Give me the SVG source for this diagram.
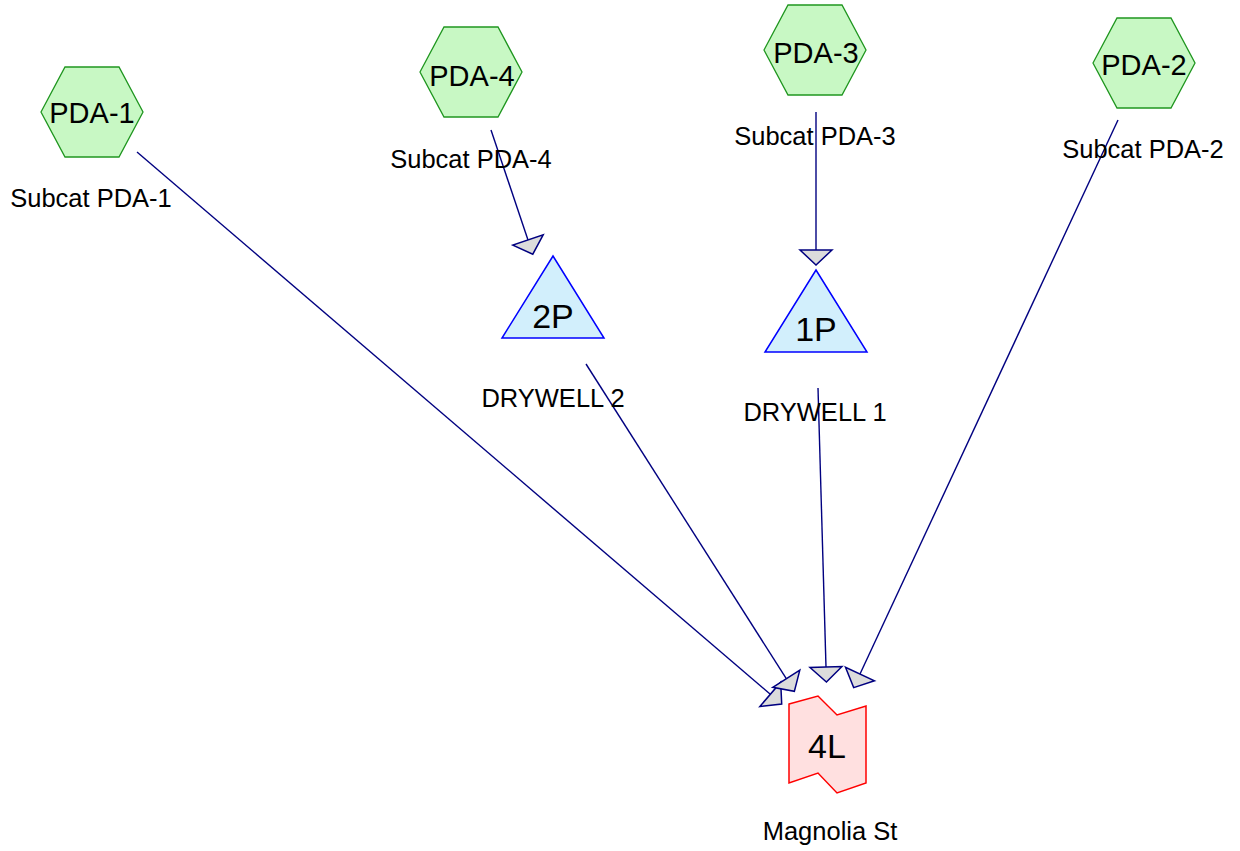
<svg xmlns="http://www.w3.org/2000/svg" width="1240" height="851" viewBox="0 0 1240 851">
<style>
.hex{fill:#c8f8c4;stroke:#1f961f;stroke-width:1.3}
.pond{fill:#d2effc;stroke:#0000ff;stroke-width:1.5}
.link{fill:#ffe0e0;stroke:#ff0000;stroke-width:1.5}
.edge{stroke:#000080;stroke-width:1.4;fill:none;marker-end:url(#arr)}
.code{font-family:"Liberation Sans",Arial,sans-serif;font-size:29px;fill:#000;text-anchor:middle}
.big{font-family:"Liberation Sans",Arial,sans-serif;font-size:34px;fill:#000;text-anchor:middle}
.lbl{font-family:"Liberation Sans",Arial,sans-serif;font-size:25.5px;fill:#000;text-anchor:middle}
</style>
<defs>
<polygon id="hexshape" points="-51,0 -27,-45 27,-45 51,0 27,45 -27,45"/>
<polygon id="trishape" points="0,-41 51,41 -51,41"/>
<marker id="arr" markerUnits="userSpaceOnUse" markerWidth="40" markerHeight="40" refX="0" refY="0" viewBox="-3 -20 22 40" orient="auto" overflow="visible">
<path d="M0,-16 L15,0 L0,16 Z" fill="#dcdcdc" stroke="#000080" stroke-width="1.5" stroke-linejoin="miter"/>
</marker>
</defs>
<g id="connectors">
<line class="edge" x1="137" y1="152" x2="770.3" y2="694.3"/>
<line class="edge" x1="586" y1="364" x2="786.3" y2="678.7"/>
<line class="edge" x1="491" y1="130" x2="528" y2="240"/>
<line class="edge" x1="816" y1="112" x2="816" y2="250"/>
<line class="edge" x1="1118" y1="120" x2="860" y2="674"/>
<line class="edge" x1="818" y1="388" x2="826" y2="667"/>
</g>
<g id="PDA-1">
<use href="#hexshape" class="hex" transform="translate(92,112)"/>
<text class="code" x="92" y="123">PDA-1</text>
<text class="lbl" x="91" y="207">Subcat PDA-1</text>
</g>
<g id="PDA-4">
<use href="#hexshape" class="hex" transform="translate(471,72)"/>
<text class="code" x="472" y="86">PDA-4</text>
<text class="lbl" x="471" y="168">Subcat PDA-4</text>
</g>
<g id="PDA-3">
<use href="#hexshape" class="hex" transform="translate(815,50)"/>
<text class="code" x="816" y="63">PDA-3</text>
<text class="lbl" x="815" y="145">Subcat PDA-3</text>
</g>
<g id="PDA-2">
<use href="#hexshape" class="hex" transform="translate(1144,63)"/>
<text class="code" x="1144" y="75">PDA-2</text>
<text class="lbl" x="1143" y="158">Subcat PDA-2</text>
</g>
<g id="2P">
<use href="#trishape" class="pond" transform="translate(553,297)"/>
<text class="big" x="553" y="328">2P</text>
<text class="lbl" x="553" y="407">DRYWELL 2</text>
</g>
<g id="1P">
<use href="#trishape" class="pond" transform="translate(816,311)"/>
<text class="big" x="816" y="341">1P</text>
<text class="lbl" x="815" y="421">DRYWELL 1</text>
</g>
<g id="4L">
<polygon class="link" points="789,704 818,696 837,715 866,706 866,783 837,793 818,773 789,783"/>
<text class="big" x="827" y="758">4L</text>
<text class="lbl" x="830" y="840">Magnolia St</text>
</g>
</svg>
